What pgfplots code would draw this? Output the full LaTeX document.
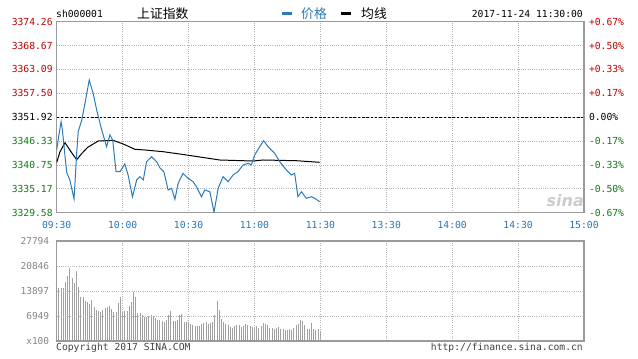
\documentclass[border=0pt]{standalone}
\usepackage{pgfplots}
\pgfplotsset{compat=1.18}
\usepackage{pgfplotstable}
\usepackage{fontspec}
\setmainfont{DejaVu Sans Mono}
\newfontfamily\cjk{Noto Sans CJK SC}
\newfontfamily\sinafont{DejaVu Sans}
\definecolor{upred}{HTML}{C00000}
\definecolor{dngreen}{HTML}{127A12}
\definecolor{timeblue}{HTML}{2A73B5}
\definecolor{priceblue}{HTML}{2B7BB9}
\definecolor{gridc}{HTML}{B4B4B4}
\definecolor{framec}{HTML}{9A9A9A}
\definecolor{barc}{HTML}{A0A0A0}
\definecolor{volgrey}{HTML}{858585}

\pgfplotstableread{
m p
0 3344.25
1.0 3347.76
2.0 3350.87
2.6 3348.93
3.8 3342.68
4.6 3338.90
6.0 3337.23
7.9 3332.78
9.1 3343.54
9.8 3348.53
11.4 3351.26
12.9 3355.24
14.8 3360.62
16.6 3357.51
18.2 3353.60
20.5 3348.93
22.7 3345.02
24.2 3347.76
25.5 3346.59
27.0 3339.17
28.8 3339.17
31.0 3340.97
32.5 3338.40
34.5 3333.32
36.4 3337.23
37.9 3338.00
39.4 3337.23
40.9 3341.51
43.2 3342.68
45.5 3341.51
47.0 3340.04
48.8 3339.17
50.7 3334.89
52.3 3335.29
53.8 3332.71
55.3 3336.46
57.5 3338.80
59.8 3337.63
62.1 3336.83
63.6 3335.66
65.9 3333.32
67.4 3334.89
69.7 3334.49
71.6 3329.70
73.5 3335.29
75.7 3338.00
78.0 3336.83
80.3 3338.40
82.5 3339.17
84.8 3340.74
87.1 3341.14
88.6 3340.74
90.1 3343.08
92.4 3345.02
94.2 3346.42
96.2 3345.02
99.2 3343.48
101.5 3341.51
104.5 3339.57
106.8 3338.40
108.3 3338.80
109.8 3333.32
111.4 3334.49
113.6 3332.95
115.9 3333.32
117.4 3332.95
119.7 3332.15
}\pricetable

\pgfplotstableread{
m p
0 3341.32
1.5 3343.84
3.8 3345.95
6.5 3343.84
9.1 3341.98
11.4 3343.42
14.0 3344.83
18.9 3346.35
25.7 3346.51
30.3 3345.65
35.6 3344.41
40.1 3344.25
48.5 3343.85
59.1 3343.08
74.2 3341.91
89.4 3341.67
93.9 3341.91
109.1 3341.74
119.7 3341.37
}\avgtable

\pgfplotstableread{
m v
1 14640
2 14820
3 14820
4 16490
5 18160
6 20200
7 17420
8 16030
9 19460
10 15100
11 12320
12 12320
13 11120
14 10930
15 10190
16 11400
17 9540
18 8620
19 8340
20 8150
21 8620
22 9260
23 9540
24 9820
25 8890
26 8150
27 7970
28 10470
29 12320
30 8340
31 8340
32 8340
33 9820
34 10930
35 13530
36 12320
37 7690
38 7690
39 7230
40 6760
41 6760
42 7040
43 7230
44 7040
45 6300
46 5840
47 5840
48 5560
49 5190
50 5840
51 7230
52 8340
53 5560
54 5560
55 5840
56 7230
57 7410
58 5190
59 5370
60 4910
61 4630
62 4450
63 4260
64 4260
65 4260
66 4630
67 4910
68 5190
69 4630
70 4910
71 5190
72 7230
73 11120
74 8620
75 6110
76 5190
77 4630
78 4450
79 3980
80 3710
81 4260
82 4450
83 4450
84 3980
85 4260
86 4630
87 4450
88 4260
89 3980
90 3980
91 4260
92 3710
93 4260
94 4910
95 4630
96 4450
97 3710
98 3520
99 3240
100 3710
101 3980
102 3340
103 3240
104 3060
105 2960
106 3240
107 3060
108 3710
109 4450
110 4630
111 5840
112 5560
113 4450
114 3340
115 3340
116 4910
117 3340
118 3060
119 3340
120 2780
}\voltable

\begin{document}
\begin{tikzpicture}[x=1pt,y=1pt]
\path[use as bounding box] (0,0) rectangle (638,-359);

% main price axis
\begin{axis}[
  at={(56.7pt,-212.7pt)}, anchor=south west,
  scale only axis, width=527.3pt, height=191pt,
  xmin=0, xmax=240, ymin=3329.58, ymax=3374.26,
  xtick={0,30,...,240},
  xticklabels={09:30,10:00,10:30,11:00,11:30,13:30,14:00,14:30,15:00},
  ytick={3329.58,3335.17,3340.75,3346.33,3351.92,3357.50,3363.09,3368.67,3374.26},
  yticklabels={\textcolor{dngreen}{3329.58},\textcolor{dngreen}{3335.17},\textcolor{dngreen}{3340.75},\textcolor{dngreen}{3346.33},3351.92,\textcolor{upred}{3357.50},\textcolor{upred}{3363.09},\textcolor{upred}{3368.67},\textcolor{upred}{3374.26}},
  major tick length=0pt,
  grid=major,
  major grid style={draw=gridc, line width=0.8pt, dash pattern=on 1pt off 1.2pt},
  axis line style={draw=framec, line width=1.1pt},
  tick label style={font=\fontsize{9.7}{10}\selectfont},
  xticklabel style={text=timeblue, yshift=-5pt},
  yticklabel style={xshift=-0.5pt},
]
\addplot[black, line width=0.9pt, dash pattern=on 2.5pt off 1.8pt] coordinates {(0,3351.92) (240,3351.92)};
\addplot[black, line width=1pt] table[x=m,y=p] {\avgtable};
\addplot[priceblue, line width=1pt] table[x=m,y=p] {\pricetable};
\end{axis}

% right percentage labels
\begin{axis}[
  at={(56.7pt,-212.7pt)}, anchor=south west,
  scale only axis, width=527.3pt, height=191pt,
  xmin=0, xmax=240, ymin=3329.58, ymax=3374.26,
  hide x axis,
  axis y line*=right,
  axis line style={draw=framec, line width=1.1pt},
  major tick length=0pt,
  ytick={3329.58,3335.17,3340.75,3346.33,3351.92,3357.50,3363.09,3368.67,3374.26},
  yticklabels={\textcolor{dngreen}{-0.67\%},\textcolor{dngreen}{-0.50\%},\textcolor{dngreen}{-0.33\%},\textcolor{dngreen}{-0.17\%},0.00\%,\textcolor{upred}{+0.17\%},\textcolor{upred}{+0.33\%},\textcolor{upred}{+0.50\%},\textcolor{upred}{+0.67\%}},
  tick label style={font=\fontsize{9.7}{10}\selectfont},
  yticklabel style={xshift=1.5pt},
]
\addplot[draw=none] coordinates {(0,3350) (240,3350)};
\end{axis}

% volume axis
\begin{axis}[
  at={(56.7pt,-341pt)}, anchor=south west,
  scale only axis, width=527.3pt, height=100pt,
  xmin=0, xmax=240, ymin=0, ymax=27794,
  scaled y ticks=false,
  xtick={0,30,...,240}, xticklabels={},
  ytick={0,6949,13897,20846,27794},
  yticklabels={x100,6949,13897,20846,27794},
  major tick length=0pt,
  grid=major,
  major grid style={draw=gridc, line width=0.8pt, dash pattern=on 1pt off 1.2pt},
  axis line style={draw=framec, line width=1.1pt},
  axis on top,
  tick label style={font=\fontsize{9.5}{10}\selectfont, text=volgrey},
  yticklabel style={xshift=-4pt},
]
\addplot[ycomb, draw=barc, line width=1pt] table[x=m,y=v] {\voltable};
\end{axis}

% header texts
\node[anchor=west, inner sep=0, font=\fontsize{9.7}{10}\selectfont] at (56,-13.7) {sh000001};
\node[anchor=west, inner sep=0, font=\cjk\fontsize{12.8}{13}\selectfont] at (137,-13.7) {上证指数};
\draw[priceblue, line width=2.7pt] (281.7,-13.5) -- (291.7,-13.5);
\node[anchor=west, inner sep=0, text=priceblue, font=\cjk\fontsize{12.8}{13}\selectfont] at (301,-13.7) {价格};
\draw[black, line width=2.7pt] (341,-13.5) -- (351,-13.5);
\node[anchor=west, inner sep=0, font=\cjk\fontsize{12.8}{13}\selectfont] at (361,-13.7) {均线};
\node[anchor=east, inner sep=0, font=\fontsize{9.7}{10}\selectfont] at (583,-13.7) {2017-11-24 11:30:00};

% watermark
\node[anchor=east, inner sep=0, text=black!20, font=\sinafont\bfseries\itshape\fontsize{16}{16}\selectfont] at (584,-201) {sina};

% footer texts
\node[anchor=west, inner sep=0, text=black!75, font=\fontsize{9.7}{10}\selectfont] at (56,-347.5) {Copyright 2017 SINA.COM};
\node[anchor=east, inner sep=0, text=black!75, font=\fontsize{9.7}{10}\selectfont] at (583,-347.5) {http://finance.sina.com.cn};
\end{tikzpicture}
\end{document}
